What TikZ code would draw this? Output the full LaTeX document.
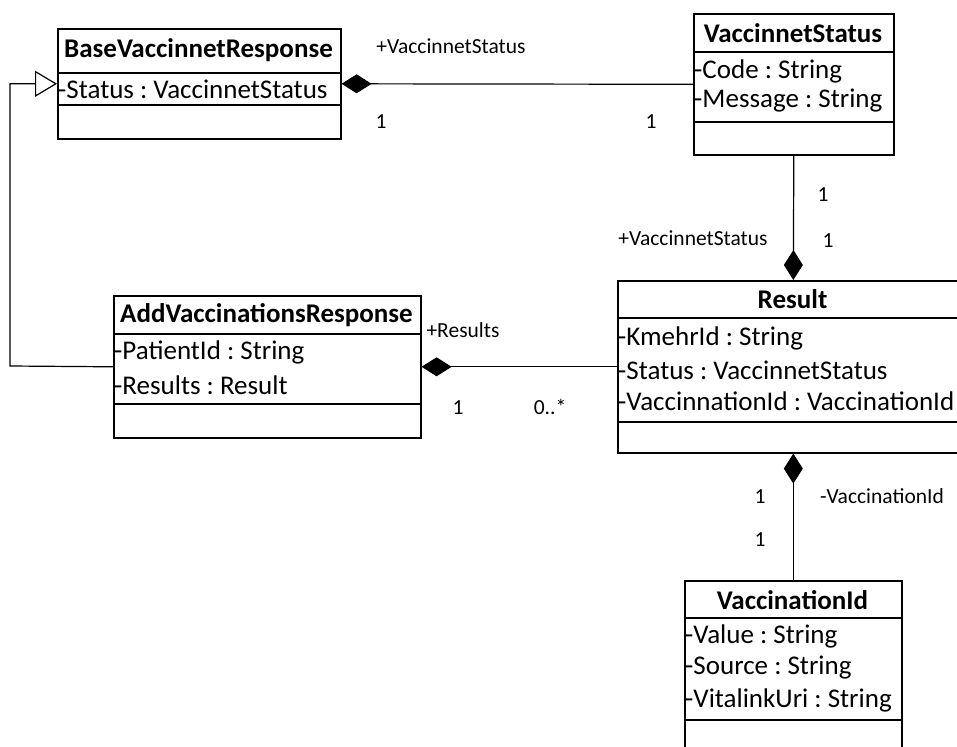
\documentclass[tikz,border=0pt]{standalone}
\usepackage{fontspec}
\setmainfont{Carlito}
\usetikzlibrary{arrows.meta}
\frenchspacing
\begin{document}
\begin{tikzpicture}[x=1pt,y=-1pt,
  cls/.style={draw, line width=1.6pt, anchor=north west, inner sep=0pt},
  sep/.style={line width=1.6pt},
  ttl/.style={font=\fontsize{27}{30}\selectfont\bfseries, inner sep=0pt},
  attr/.style={font=\fontsize{27}{30}\selectfont, anchor=west, inner sep=0pt},
  lbl/.style={font=\fontsize{21.5}{24}\selectfont, inner sep=0pt},
  conn/.style={line width=1.2pt},
  comp/.style={conn, -{Diamond[length=30pt,width=19pt,fill=black]}},
  gen/.style={conn, -{Triangle[open,length=22pt,width=26pt,fill=white]}}
]
\clip (0,0) rectangle (957,746);
% BaseVaccinnetResponse
\node[cls, minimum width=283pt, minimum height=110pt] (base) at (57,28) {};
\draw[sep] (57,73) -- (340,73);
\draw[sep] (57,105) -- (340,105);
\node[ttl] (baseT) at (198.5,50) {BaseVaccinnetResponse};
\node[attr] (baseA1) at (58,89) {-Status : VaccinnetStatus};
% VaccinnetStatus
\node[cls, minimum width=200pt, minimum height=141pt] (vs) at (693,13) {};
\draw[sep] (693,52) -- (893,52);
\draw[sep] (693,122) -- (893,122);
\node[ttl] (vsT) at (793,33) {VaccinnetStatus};
\node[attr] (vsA1) at (694,71) {-Code : String};
\node[attr] (vsA2) at (694,101) {-Message : String};
% AddVaccinationsResponse
\node[cls, minimum width=307pt, minimum height=142pt] (add) at (113,295) {};
\draw[sep] (113,334) -- (420,334);
\draw[sep] (113,404) -- (420,404);
\node[ttl] (addT) at (266.5,315) {AddVaccinationsResponse};
\node[attr] (addA1) at (114,352) {-PatientId : String};
\node[attr] (addA2) at (114,385) {-Results : Result};
% Result
\node[cls, minimum width=351pt, minimum height=172pt] (res) at (617,280) {};
\draw[sep] (617,318) -- (968,318);
\draw[sep] (617,422) -- (968,422);
\node[ttl] (resT) at (792.5,299) {Result};
\node[attr] (resA1) at (618,338) {-KmehrId : String};
\node[attr] (resA2) at (618,370) {-Status : VaccinnetStatus};
\node[attr] (resA3) at (618,401) {-VaccinnationId : VaccinationId};
% VaccinationId
\node[cls, minimum width=217pt, minimum height=200pt] (vid) at (684,580) {};
\draw[sep] (684,618) -- (901,618);
\draw[sep] (684,720) -- (901,720);
\node[ttl] (vidT) at (792.5,600) {VaccinationId};
\node[attr] (vidA1) at (685,636) {-Value : String};
\node[attr] (vidA2) at (685,668) {-Source : String};
\node[attr] (vidA3) at (685,700) {-VitalinkUri : String};
% connectors
\draw[comp] (vs.west) -- (base.east);
\draw[comp] (vs.south) -- (res.north);
\draw[comp] (res.west) -- (add.east);
\draw[comp] (vid.north) -- (res.south);
\coordinate (gbend) at (10,366);
\draw[gen] (add.west) -- (gbend) |- (base.west);
% labels
\node[lbl] (l1) at (451,46) {+VaccinnetStatus};
\node[lbl] (l2) at (381,122) {1};
\node[lbl] (l3) at (651,122) {1};
\node[lbl] (l4) at (823,195) {1};
\node[lbl] (l5) at (828,241) {1};
\node[lbl] (l6) at (693,238) {+VaccinnetStatus};
\node[lbl] (l7) at (463,330) {+Results};
\node[lbl] (l8) at (458,408) {1};
\node[lbl] (l9) at (550,407) {0..*};
\node[lbl] (l10) at (760,497) {1};
\node[lbl] (l11) at (760,540) {1};
\node[lbl] (l12) at (882,496) {-VaccinationId};
\end{tikzpicture}
\end{document}
